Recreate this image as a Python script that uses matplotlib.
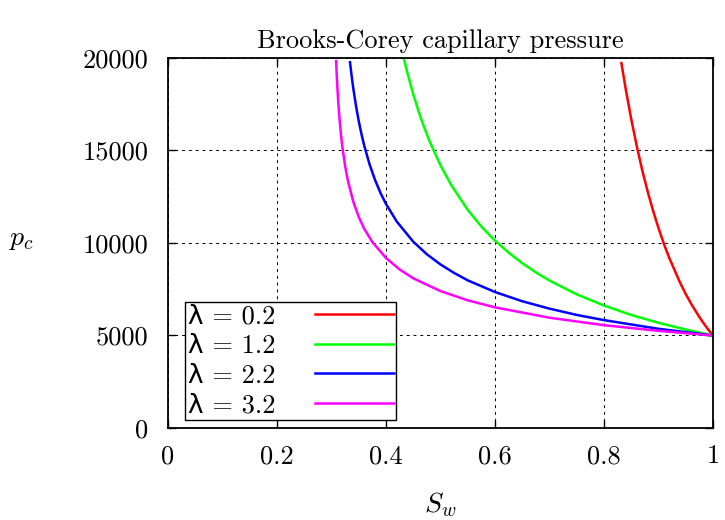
import matplotlib

matplotlib.use("Agg")

from matplotlib import pyplot as plt  # noqa: E402

# values
sw_02 = [0.832, 0.84, 0.85, 0.86, 0.87, 0.88, 0.89, 0.9, 0.91, 0.92, 0.94,
         0.95, 0.96, 0.975, 0.98, 0.99, 1.0]
pc_02 = [19720, 18300, 16700, 15260, 13960, 12800, 11750, 10810, 9950, 9175,
         7830, 7240, 6710, 6000, 5780, 5370, 5000]

sw_12 = [0.433, 0.44, 0.45, 0.46, 0.47, 0.48, 0.5, 0.52, 0.55, 0.575, 0.6,
         0.625, 0.65, 0.675, 0.7, 0.75, 0.8, 0.85, 0.9, 0.95, 1.0]
pc_12 = [19950, 19120, 18050, 17100, 16260, 15500, 14200, 13120, 11790, 10890,
         10130, 9480, 8910, 8410, 7970, 7225, 6620, 6110, 5685, 5320, 5000]

sw_22 = [0.334, 0.337, 0.34, 0.345, 0.35, 0.355, 0.36, 0.37, 0.38, 0.39, 0.4,
         0.42, 0.45, 0.475, 0.5, 0.525, 0.55, 0.6, 0.65, 0.7, 0.75, 0.8, 0.9, 1.0]
pc_22 = [19770, 19030, 18360, 17410, 16590, 15890, 15270, 14240, 13400, 12700,
         12110, 11150, 10070, 9390, 8840, 8380, 7980, 7350, 6850, 6450, 6110,
         5830, 5360, 5000]

sw_32 = [0.3085, 0.309, 0.3095, 0.31, 0.311, 0.3125, 0.315, 0.3175, 0.32,
         0.325, 0.33, 0.34, 0.35, 0.36, 0.375, 0.4, 0.425, 0.45, 0.5, 0.55,
         0.6, 0.7, 0.8, 0.9, 1.0]
pc_32 = [19840, 19490, 19165, 18860, 18310, 17590, 16620, 15830, 15190,
         14160, 13380, 12230, 11410, 10770, 10050, 9190, 8570, 8090, 7400, 6900,
         6520, 5960, 5555, 5250, 5000]

labels = ["λ = 0.2", "λ = 1.2", "λ = 2.2", "λ = 3.2"]
colors = ["#ff0000", "#00ff00", "#0000ff", "#ff00ff"]

x_ticks = [0, 0.2, 0.4, 0.6, 0.8, 1]
x_tick_labels = ["0", "0.2", "0.4", "0.6", "0.8", "1"]
y_ticks = [0, 5000, 10000, 15000, 20000]

plt.rcParams["font.family"] = ["cmr10", "DejaVu Serif"]
plt.rcParams["mathtext.fontset"] = "cm"
plt.rcParams["axes.formatter.use_mathtext"] = True

fig = plt.figure(figsize=(7.25, 5.2), dpi=100)
ax = fig.add_axes([0.2317, 0.177, 0.7517, 0.7115])

series = [(sw_02, pc_02), (sw_12, pc_12), (sw_22, pc_22), (sw_32, pc_32)]
for (sw, pc), label, color in zip(series, labels, colors):
    ax.plot(sw, pc, color=color, linewidth=1.8, label=label)

ax.set_xlim(0, 1)
ax.set_ylim(0, 20000)
ax.set_xticks(x_ticks)
ax.set_xticklabels(x_tick_labels)
ax.set_yticks(y_ticks)
ax.set_yticklabels([str(v) for v in y_ticks])
ax.tick_params(direction="in", top=True, right=True, length=6, width=1.0,
               labelsize=19)
ax.tick_params(axis="x", pad=12)
ax.tick_params(axis="y", pad=14)
ax.grid(True, color="black", linestyle=(0, (3, 4)), linewidth=0.7)
for spine in ax.spines.values():
    spine.set_linewidth(1.3)

ax.set_title("Brooks-Corey capillary pressure", fontsize=19, pad=7)
ax.set_xlabel("$S_w$", fontsize=20, labelpad=16)
ax.set_ylabel("$p_c$", fontsize=20, rotation=0)
ax.yaxis.set_label_coords(-0.268, 0.475)

leg = ax.legend(loc="lower left", bbox_to_anchor=(0.031, 0.022), markerfirst=False,
                frameon=True, fancybox=False, framealpha=1, edgecolor="black",
                handlelength=3.0, handletextpad=1.5, borderpad=0.1, labelspacing=0.22,
                borderaxespad=0, prop={"size": 19})
leg.get_frame().set_linewidth(1.0)
for text in leg.get_texts():
    text.set_fontfamily(["cmr10", "DejaVu Sans"])

fig.savefig("out.png", dpi=100)
